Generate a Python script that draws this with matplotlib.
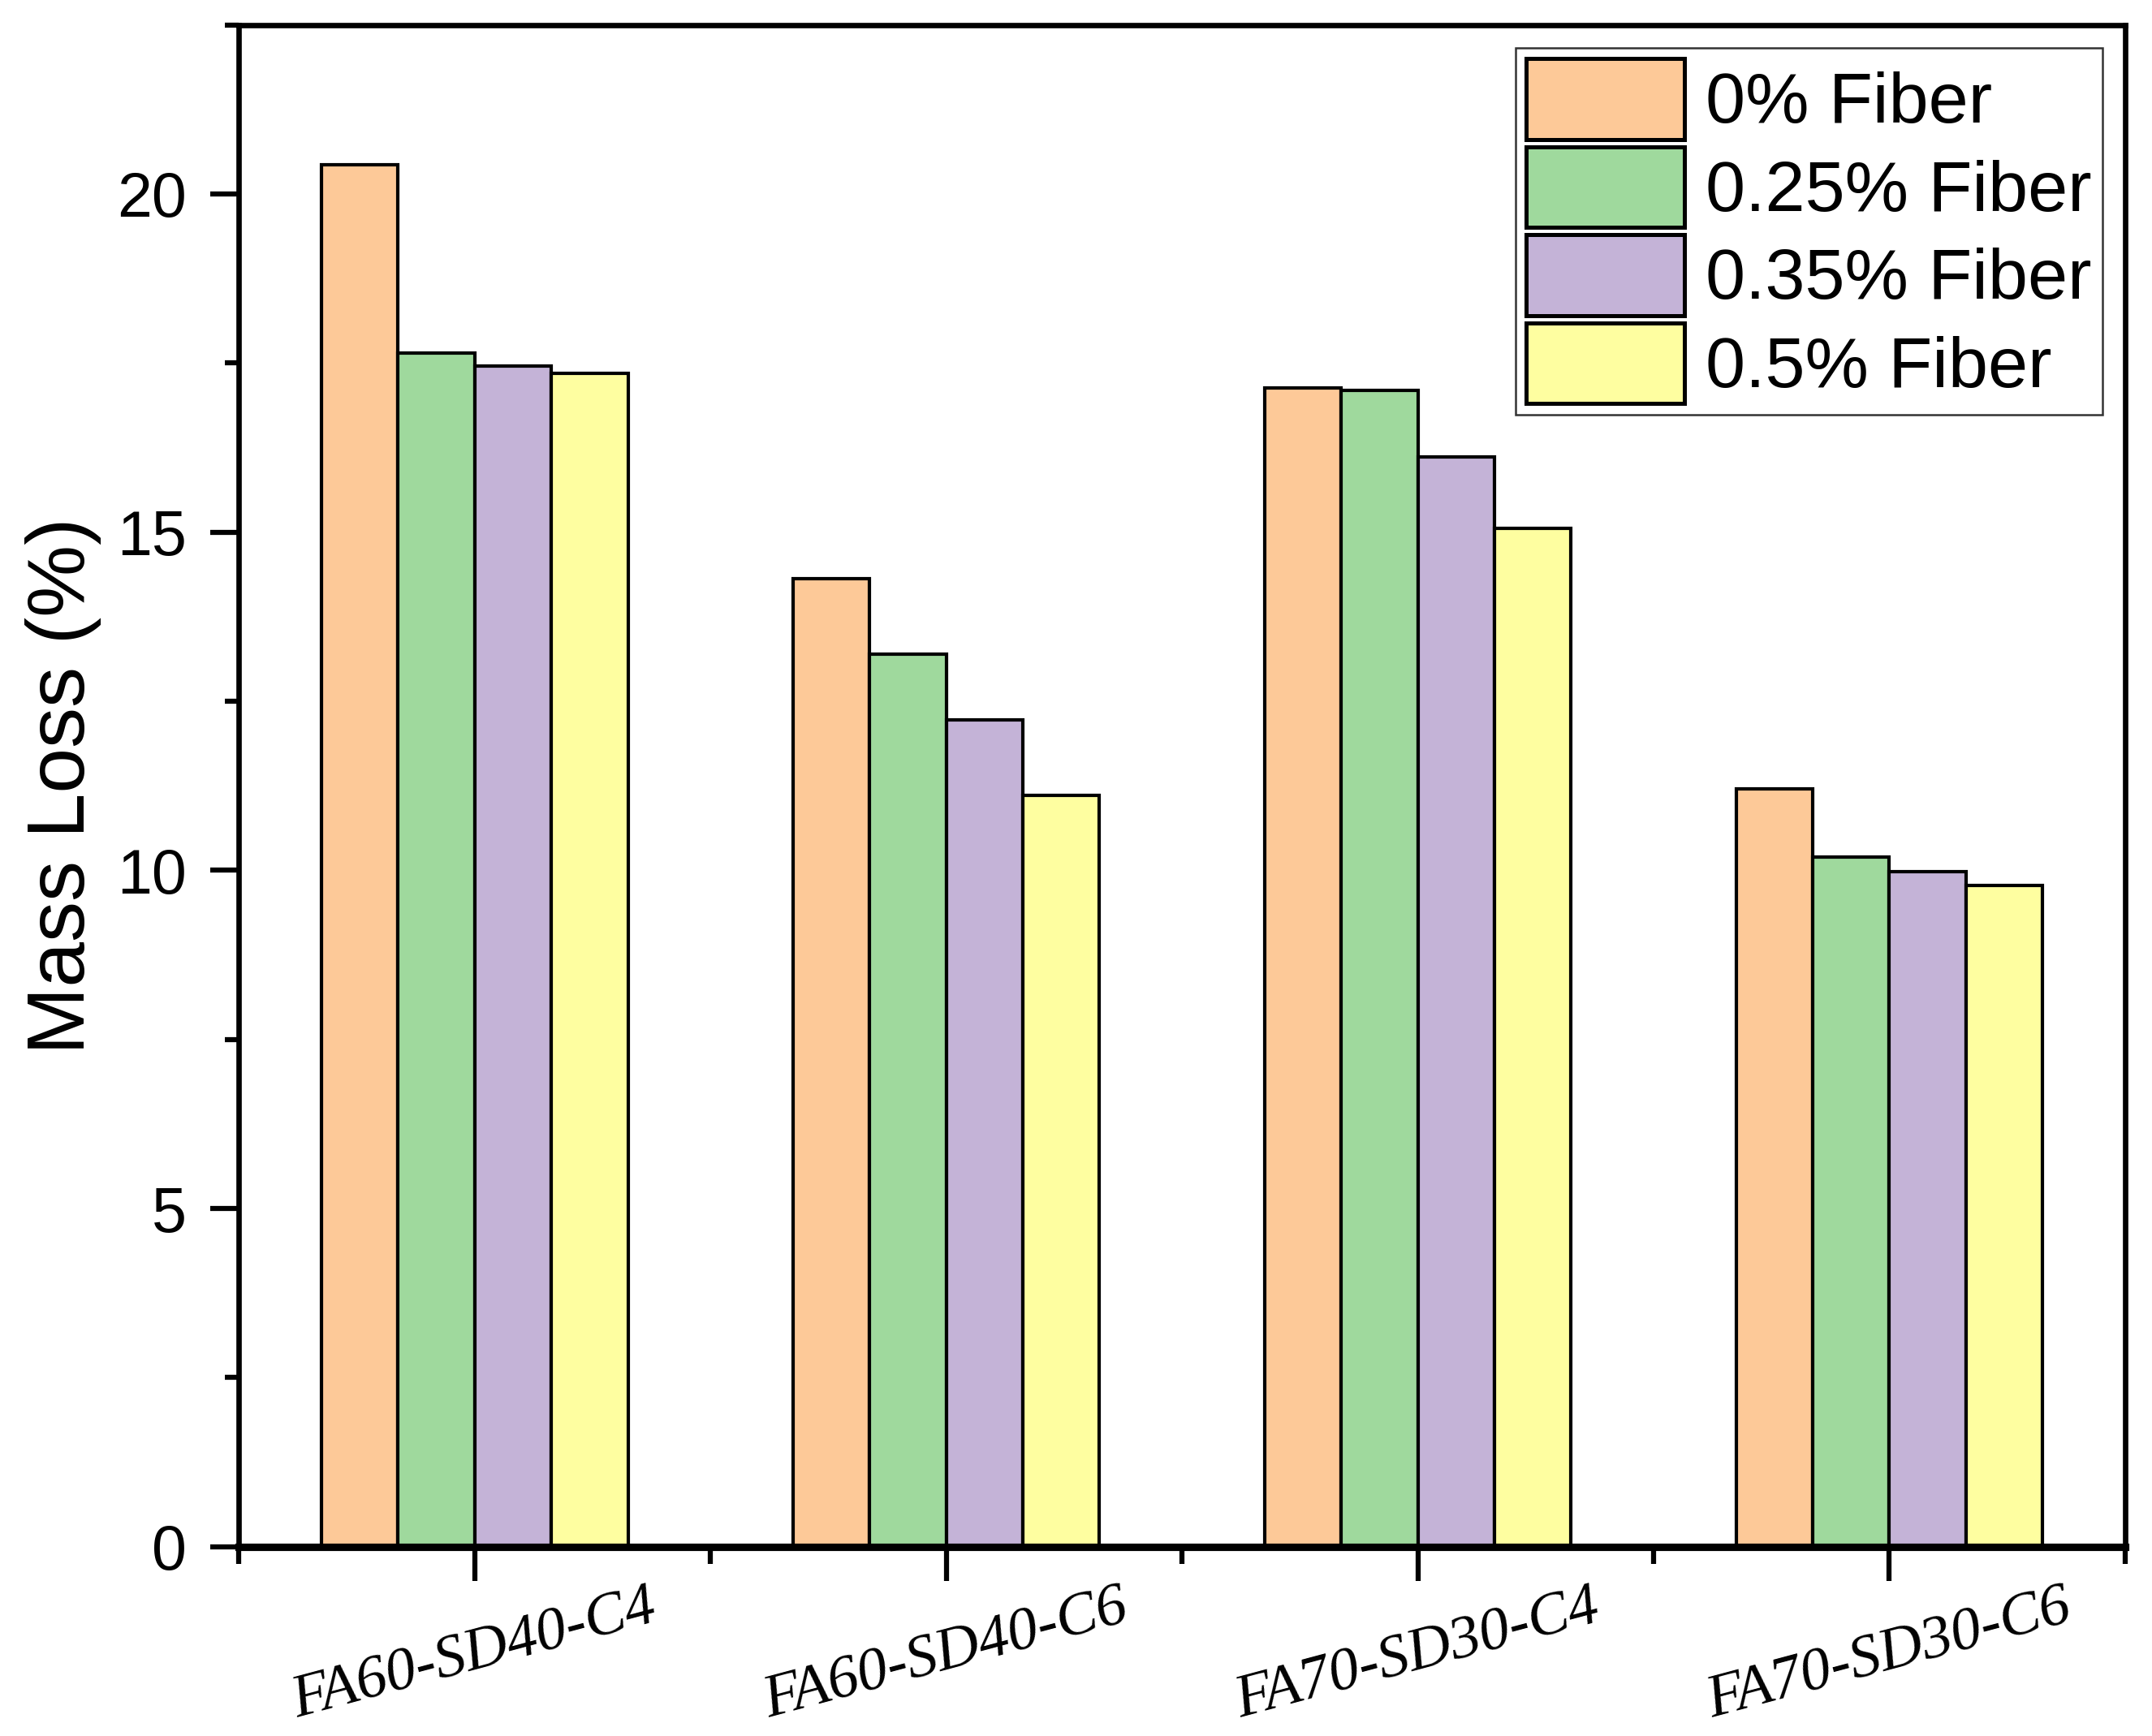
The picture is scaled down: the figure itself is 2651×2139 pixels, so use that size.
import numpy as np
import matplotlib
matplotlib.use("Agg")
import matplotlib.pyplot as plt
from matplotlib.ticker import MultipleLocator, FixedLocator

# data
mixes = ["FA60-SD40-C4", "FA60-SD40-C6", "FA70-SD30-C4", "FA70-SD30-C6"]
series = ["0% Fiber", "0.25% Fiber", "0.35% Fiber", "0.5% Fiber"]
fiber_0 = [20.43, 14.31, 17.13, 11.21]
fiber_025 = [17.65, 13.20, 17.09, 10.20]
fiber_035 = [17.45, 12.23, 16.11, 9.98]
fiber_05 = [17.35, 11.11, 15.06, 9.78]
colors = ["#FDC998", "#9FD99D", "#C4B3D7", "#FEFEA0"]

values = [fiber_0, fiber_025, fiber_035, fiber_05]

fig = plt.figure(figsize=(2651 / 300, 2139 / 300), dpi=300)
ax = fig.add_axes([0.111, 0.109, 0.8765, 0.8767])

x = np.arange(1, len(mixes) + 1)
w = 0.1625
for i, (vals, lab, c) in enumerate(zip(values, series, colors)):
    ax.bar(x + (i - 1.5) * w, vals, width=w, color=c, edgecolor="black",
           linewidth=1.0, label=lab)

ax.set_xlim(0.5, 4.5)
ax.set_ylim(0, 22.5)

# axes styling
for s in ["left", "right", "top"]:
    ax.spines[s].set_linewidth(1.6)
ax.spines["bottom"].set_linewidth(2.2)

ax.yaxis.set_major_locator(MultipleLocator(5))
ax.yaxis.set_minor_locator(MultipleLocator(2.5))
ax.xaxis.set_major_locator(FixedLocator(x))
ax.xaxis.set_minor_locator(FixedLocator(np.arange(0.5, 4.6, 1.0)))

ax.tick_params(axis="y", which="major", direction="out", length=8.5, width=1.5,
               pad=7, labelsize=18.5)
ax.tick_params(axis="y", which="minor", direction="out", length=4, width=1.5)
ax.tick_params(axis="x", which="major", direction="out", length=10, width=1.5,
               pad=0)
ax.tick_params(axis="x", which="minor", direction="out", length=5, width=1.5)

for lab in ax.get_yticklabels():
    lab.set_fontfamily("Liberation Sans")

ax.set_xticks(x)
ax.set_xticklabels(mixes, rotation=15, ha="center", va="top",
                   fontfamily="Liberation Serif", fontstyle="italic",
                   fontsize=18)

ax.set_ylabel("Mass Loss (%)", fontfamily="Liberation Sans", fontsize=24)
ax.yaxis.set_label_coords(-0.073, 0.5)

leg = ax.legend(loc="upper right", bbox_to_anchor=(0.988, 0.985),
                borderaxespad=0, frameon=True, fancybox=False,
                prop={"family": "Liberation Sans", "size": 21.2},
                handlelength=2.2, handleheight=1.36, handletextpad=0.3,
                labelspacing=0.1, borderpad=0.15)
leg.get_frame().set_edgecolor("black")
leg.get_frame().set_linewidth(0.6)
for h in leg.legend_handles:
    h.set_linewidth(1.2)

fig.savefig("out.png", dpi=300)
